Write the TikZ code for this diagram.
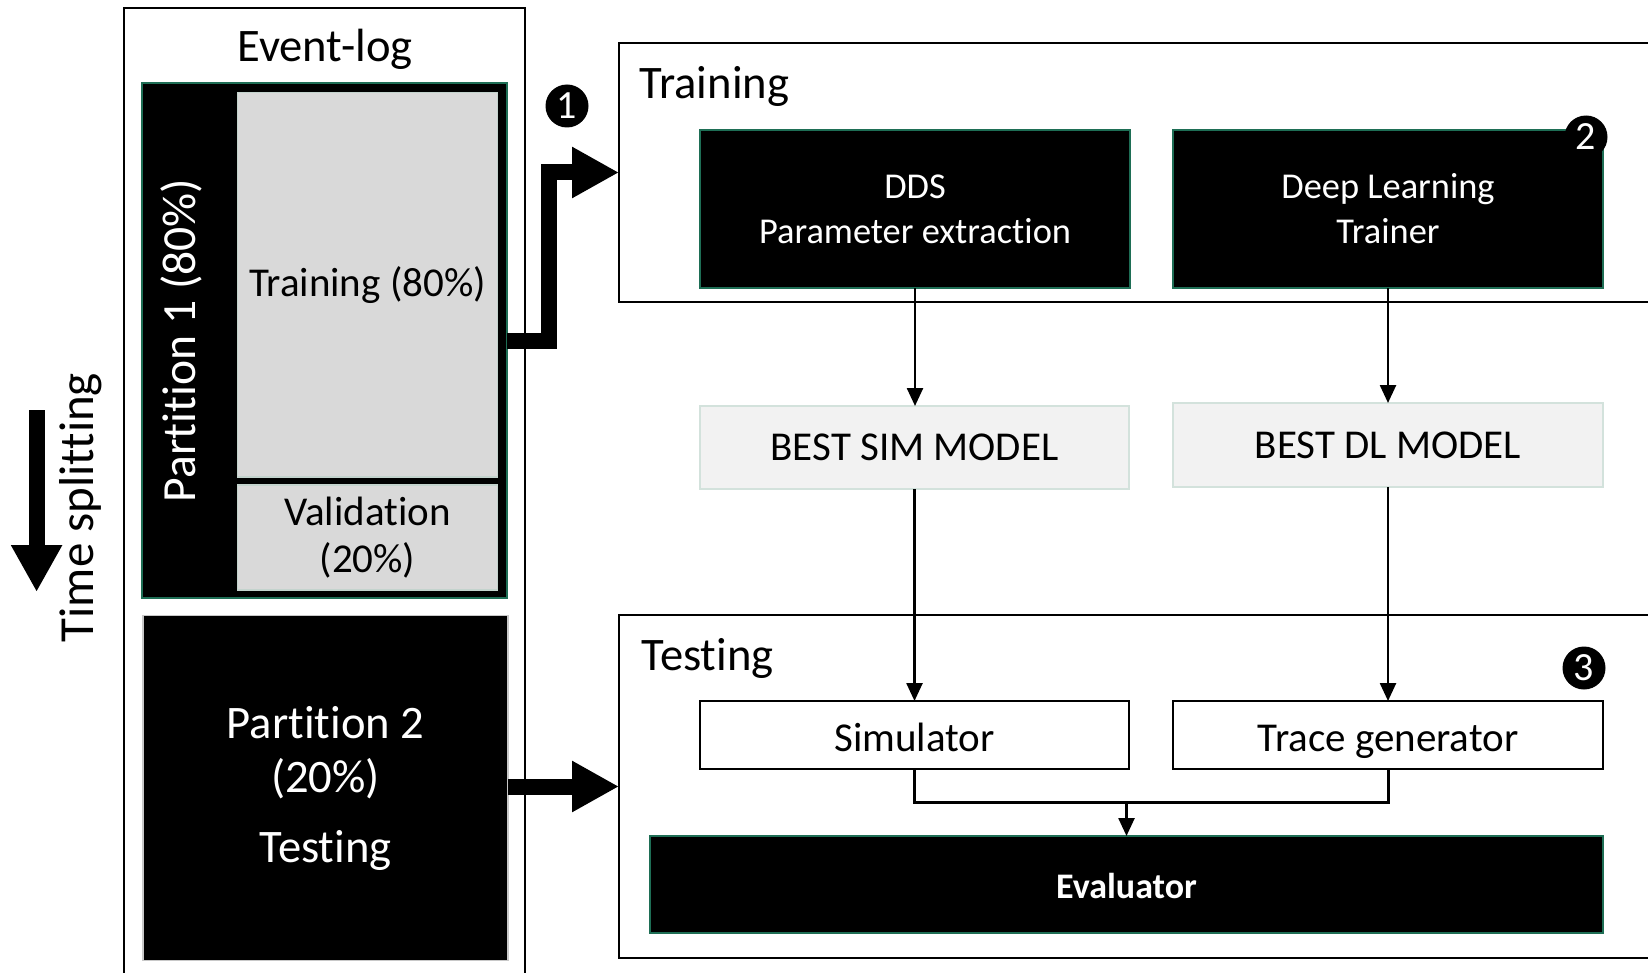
\documentclass[tikz,border=0pt]{standalone}
\usepackage{fontspec}
\setmainfont{Carlito}[Ligatures={NoCommon,NoContextual},Contextuals=NoAlternate]
\usetikzlibrary{arrows.meta}
\definecolor{edgegreen}{HTML}{1E6E55}
\definecolor{softgray}{HTML}{D9D9D9}
\definecolor{softedge}{HTML}{C3D3CD}
\definecolor{palefill}{HTML}{F2F2F2}
\definecolor{paleedge}{HTML}{D3E2DC}
\definecolor{partedge}{HTML}{C8C8C8}
\begin{document}
\begin{tikzpicture}[x=0.5pt,y=-0.5pt,
  frame/.style={draw=black,line width=1pt},
  area/.style={rectangle,inner sep=0pt,outer sep=0pt},
  darkbox/.style={area,fill=black,draw=edgegreen,line width=1.2pt,text=white},
  greybox/.style={area,fill=softgray,draw=softedge,line width=0.8pt,align=center,font=\fontsize{20.5}{23.5}\selectfont},
  paleblock/.style={area,fill=palefill,draw=paleedge,line width=1pt,font=\fontsize{20.5}{24}\selectfont,text height=13.2pt,text depth=0pt},
  plainbox/.style={area,fill=white,draw=black,line width=1.3pt,font=\fontsize{20.5}{24}\selectfont,text height=16.5pt,text depth=0pt},
  link/.style={line width=1.25pt,-{Triangle[length=9pt,width=8pt]}},
  fatarrow/.style={line width=8pt,-{Triangle[length=23.5pt,width=24pt]}},
  badge/.style={circle,fill=black,text=white,minimum size=21.5pt,inner sep=0pt,font=\fontsize{20}{20}\selectfont},
  title/.style={anchor=base west,inner sep=0pt,font=\fontsize{23.3}{28}\selectfont}
]
\useasboundingbox (0,0) rectangle (1648,973);

% ---- event log column ----
\node[area,minimum width=200.5pt,minimum height=482.5pt] (eventlog) at (324.5,490.5) {};
\draw[frame] (eventlog.south west) -- (eventlog.north west) -- (eventlog.north east) -- (eventlog.south east);
\node[anchor=base,inner sep=0pt,font=\fontsize{23.3}{28}\selectfont] (eventlabel) at (325,62) {Event-log};

\node[darkbox,minimum width=182.5pt,minimum height=257.5pt] (part1) at (324.5,340.5) {};
\node[greybox,minimum width=130pt,minimum height=192pt] (trainpart) at (367.5,284.7) {Training (80\%)};
\node[greybox,minimum width=130pt,minimum height=52.5pt] (valpart) at (367.5,537.5) {Validation\\(20\%)};
\node[rotate=90,anchor=base,inner sep=0pt,text=white,font=\fontsize{23.8}{28}\selectfont] (part1label) at (195,340.5) {Partition 1 (80\%)};

\node[area,fill=black,draw=partedge,line width=0.6pt,text=white,align=center,
      font=\fontsize{23.3}{27}\selectfont,minimum width=182.5pt,minimum height=172.5pt] (part2) at (325.5,788)
      {Partition 2\\(20\%)\\[8pt]Testing};

% ---- time direction ----
\node[rotate=90,anchor=base,inner sep=0pt,font=\fontsize{24.5}{28}\selectfont] (timelabel) at (93,507.5) {Time splitting};
\coordinate (timetop) at (36.6,410);
\coordinate (timeend) at (36.6,592);
\draw[fatarrow] (timetop) -- (timeend);

% ---- training stage ----
\node[area,minimum width=514.5pt,minimum height=129.5pt] (trainbox) at (1133.5,172.5) {};
\draw[frame] (trainbox.north east) -- (trainbox.north west) -- (trainbox.south west) -- (trainbox.south east);
\node[title] (traintitle) at (639,99) {Training};

\node[darkbox,align=center,font=\fontsize{18.2}{22.5}\selectfont,minimum width=215pt,minimum height=79pt] (dds) at (915,209) {DDS\\Parameter extraction};
\node[darkbox,align=center,font=\fontsize{18.2}{22.5}\selectfont,minimum width=215pt,minimum height=79pt] (dl) at (1388,209) {Deep Learning\\Trainer};

% ---- selected models ----
\node[paleblock,minimum width=214.5pt,minimum height=41.5pt] (bestsim) at (914.5,447.5) {BEST SIM MODEL};
\node[paleblock,minimum width=215pt,minimum height=42pt] (bestdl) at (1388,445) {BEST DL MODEL};

% ---- testing stage ----
\node[area,minimum width=514.5pt,minimum height=171.5pt] (testbox) at (1133.5,786.5) {};
\draw[frame] (testbox.north east) -- (testbox.north west) -- (testbox.south west) -- (testbox.south east);
\node[title] (testtitle) at (641,670) {Testing};

\node[plainbox,minimum width=214.5pt,minimum height=34pt] (sim) at (914.5,735) {Simulator};
\node[plainbox,minimum width=215pt,minimum height=34pt] (trace) at (1388,735) {Trace generator};
\node[darkbox,font=\fontsize{18}{22}\selectfont\bfseries,text height=13.5pt,text depth=0pt,
      minimum width=476.5pt,minimum height=48.5pt] (eval) at (1126.5,884.5) {Evaluator};

% ---- connectors ----
\draw[link] (dds.south) -- (dds.south |- bestsim.north);
\draw[link] (dl.south) -- (bestdl.north);
\draw[link] (bestsim.south) -- (sim.north);
\draw[link] (bestdl.south) -- (trace.north);
\coordinate (join) at (1126.5,802);
\draw[line width=1.5pt] (sim.south) |- (join) -| (trace.south);
\draw[link] (join) -- (eval.north);

\draw[fatarrow] (part1.east) -- ++(42,0) |- (trainbox.west);
\draw[fatarrow] (part2.east |- testbox.west) -- (testbox.west);

% ---- step badges ----
\node[badge] (step1) at (567,106) {1};
\node[badge] (step2) at (1586,137) {2};
\node[badge] (step3) at (1584,668) {3};
\end{tikzpicture}
\end{document}
